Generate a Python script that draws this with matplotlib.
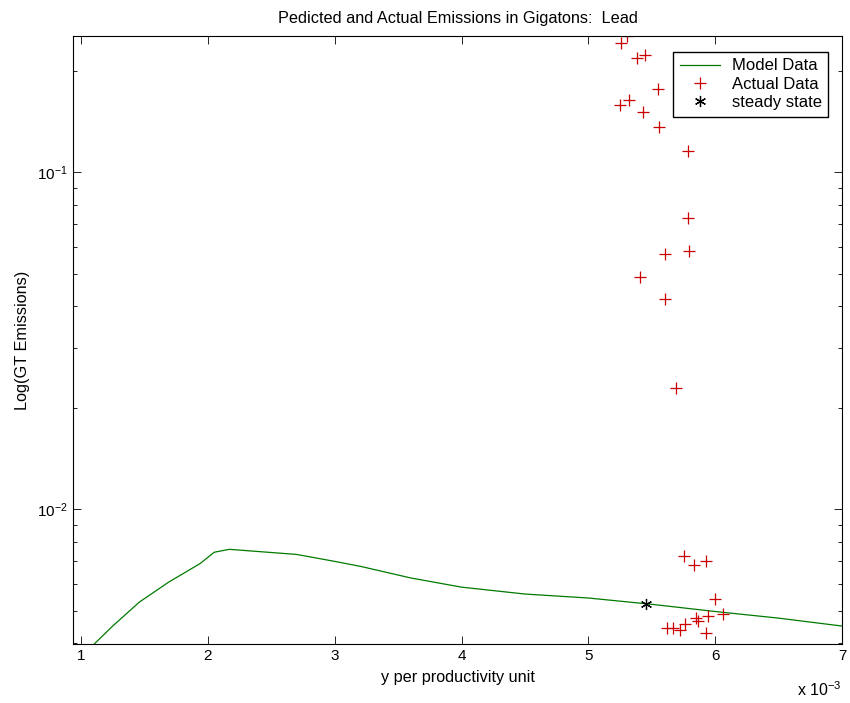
import numpy as np
import matplotlib.pyplot as plt
from matplotlib.ticker import FixedLocator, LogLocator, NullFormatter

plt.rcParams['font.family'] = ['Liberation Sans', 'DejaVu Sans']
plt.rcParams['mathtext.fontset'] = 'custom'
plt.rcParams['mathtext.rm'] = 'Liberation Sans'
plt.rcParams['axes.unicode_minus'] = False

# x values are in units of 1e-3
x_model = [1.00, 1.11, 1.25, 1.46, 1.69, 1.94, 2.05, 2.17, 2.70, 3.00, 3.20,
           3.60, 4.00, 4.50, 5.00, 5.50, 6.00, 6.50, 7.00, 7.20]
y_model = [0.0036, 0.0040, 0.0045, 0.0053, 0.00607, 0.00690, 0.00745, 0.0076,
           0.00734, 0.00700, 0.00677, 0.00625, 0.00587, 0.00560, 0.00545,
           0.00522, 0.00497, 0.00475, 0.00450, 0.00440]

x_actual = [5.305, 5.257, 5.383, 5.449, 5.546, 5.318, 5.247, 5.431, 5.554,
            5.785, 5.787, 5.793, 5.604, 5.404, 5.606, 5.693,
            5.758, 5.832, 5.929, 6.000, 6.063, 5.945, 5.850, 5.863, 5.766,
            5.719, 5.664, 5.620, 5.924]
y_actual = [0.2535, 0.241, 0.2187, 0.222, 0.1767, 0.1637, 0.158, 0.1507, 0.136,
            0.1156, 0.0732, 0.0584, 0.0571, 0.0487, 0.0419, 0.0229,
            0.00726, 0.00681, 0.00700, 0.00543, 0.00490, 0.00481, 0.00474,
            0.00466, 0.00456, 0.00438, 0.00445, 0.00443, 0.00430]

x_steady = [5.457]
y_steady = [0.00523]

fig = plt.figure(figsize=(8.5, 7.03), dpi=100)
ax = fig.add_axes([0.0859, 0.0839, 0.9047, 0.8649])

ax.plot(x_model, y_model, color='#007a00', lw=0.9, label='Model Data')
ax.plot(x_actual, y_actual, ls='none', marker='+', ms=9, mew=0.9,
        color='#cc0000', label='Actual Data')
ax.plot(x_steady, y_steady, ls='none', marker=(6, 2, 0), ms=8, mew=0.9,
        color='black', label='steady state')

ax.set_yscale('log')
ax.set_xlim(0.937, 7.0)
ax.set_ylim(0.00398, 0.2535)
ax.xaxis.set_major_locator(FixedLocator([1, 2, 3, 4, 5, 6, 7]))
ax.yaxis.set_minor_locator(LogLocator(base=10, subs=np.arange(2, 10)))
ax.yaxis.set_minor_formatter(NullFormatter())

ax.tick_params(which='both', direction='in', top=True, right=True,
               labelsize=11, width=0.6)
ax.tick_params(which='major', length=6)
ax.tick_params(which='minor', length=3)
for s in ax.spines.values():
    s.set_linewidth(0.8)

ax.set_title('Pedicted and Actual Emissions in Gigatons:  Lead', fontsize=11.7, pad=9)
ax.set_xlabel('y per productivity unit', fontsize=11.7, labelpad=5)
ax.set_ylabel('Log(GT Emissions)', fontsize=11.7, labelpad=5)
ax.text(1.0, -0.075, r'x 10$^{-3}$', transform=ax.transAxes, ha='right',
        va='center', fontsize=11.5)

leg = ax.legend(loc='upper right', bbox_to_anchor=(0.982, 0.974), fontsize=12,
                fancybox=False, framealpha=1, edgecolor='black',
                borderaxespad=0, handlelength=2.4, handletextpad=0.7,
                borderpad=0.4, labelspacing=0.2)
leg.get_frame().set_linewidth(1.0)

fig.savefig('out.png', dpi=100)
